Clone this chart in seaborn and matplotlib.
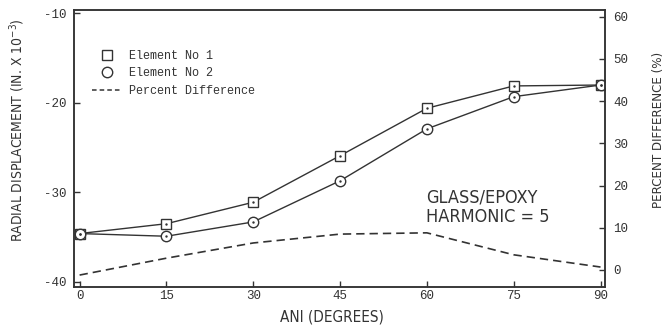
import matplotlib
matplotlib.use("Agg")
import matplotlib.pyplot as plt
from matplotlib.lines import Line2D
import seaborn as sns
import pandas as pd

# ── data ────────────────────────────────────────────────────────────────
angle = [0, 15, 30, 45, 60, 75, 90]
element_1 = [-34.6, -33.5, -31.1, -25.9, -20.6, -18.1, -18.0]
element_2 = [-34.6, -34.9, -33.3, -28.7, -22.9, -19.3, -18.0]
pct_diff = [-1.2, 2.8, 6.4, 8.5, 8.8, 3.6, 0.7]

left_ticks = [-10, -20, -30, -40]
right_ticks = [0, 10, 20, 30, 40, 50, 60]
x_ticks = [0, 15, 30, 45, 60, 75, 90]

df = pd.DataFrame({"angle": angle, "e1": element_1, "e2": element_2, "pct": pct_diff})

sns.set_theme(style="ticks")
plt.rcParams["axes.unicode_minus"] = False
plt.rcParams["font.family"] = ["DejaVu Sans"]
plt.rcParams["font.stretch"] = "condensed"

INK = "#333333"
MONO = "Liberation Mono"
NARROW = "DejaVu Sans"

fig = plt.figure(figsize=(6.65, 3.29), dpi=100)
ax = fig.add_axes([0.111, 0.128, 0.799, 0.842])
ax2 = ax.twinx()

# displacement curves
sns.lineplot(data=df, x="angle", y="e1", ax=ax, color=INK, linewidth=1.0,
             marker="s", markersize=7, markerfacecolor="white",
             markeredgecolor=INK, markeredgewidth=1.0)
sns.lineplot(data=df, x="angle", y="e2", ax=ax, color=INK, linewidth=1.0,
             marker="o", markersize=7.5, markerfacecolor="white",
             markeredgecolor=INK, markeredgewidth=1.0)
# centre dots of the markers
sns.scatterplot(data=df, x="angle", y="e1", ax=ax, color=INK, s=3,
                linewidth=0, zorder=5)
sns.scatterplot(data=df, x="angle", y="e2", ax=ax, color=INK, s=3,
                linewidth=0, zorder=5)

# percent difference (right axis)
sns.lineplot(data=df, x="angle", y="pct", ax=ax2, color=INK, linewidth=1.2,
             linestyle=(0, (5, 3)))

ax.set_xlim(-1.0, 90.8)
ax.set_ylim(-40.56, -9.6)
ax2.set_ylim(-4.0, 61.6)

ax.set_xticks(x_ticks)
ax.set_yticks(left_ticks)
ax2.set_yticks(right_ticks)
ax.set_xticklabels([str(t) for t in x_ticks], fontfamily=MONO, fontsize=9)
ax.set_yticklabels([str(t) for t in left_ticks], fontfamily=MONO, fontsize=9)
ax2.set_yticklabels([str(t) for t in right_ticks], fontfamily=MONO, fontsize=9)

ax.tick_params(axis="both", direction="in", length=4, width=1, color=INK,
               labelcolor=INK)
ax.tick_params(axis="x", pad=2)
ax.tick_params(axis="y", pad=5)
ax2.tick_params(axis="y", direction="in", length=4, width=1, color=INK,
                labelcolor=INK, pad=6)

for a in (ax, ax2):
    for s in a.spines.values():
        s.set_visible(True)
        s.set_color(INK)
        s.set_linewidth(1.1)

ax.set_xlabel("ANI (DEGREES)", fontfamily=NARROW, fontstretch="condensed",
              fontsize=11, color=INK)
ax.set_ylabel("RADIAL DISPLACEMENT (IN. X 10$^{-3}$)", fontfamily=NARROW,
              fontstretch="condensed", fontsize=10, color=INK)
ax2.set_ylabel("PERCENT DIFFERENCE (%)", fontfamily=NARROW,
               fontstretch="condensed", fontsize=9.5, color=INK)
ax.xaxis.set_label_coords(0.486, -0.083)
ax.yaxis.set_label_coords(-0.088, 0.567)
ax2.yaxis.set_label_coords(1.088, 0.567)

ax.text(0.663, 0.355, "GLASS/EPOXY\nHARMONIC = 5", transform=ax.transAxes,
        ha="left", va="top", fontfamily=NARROW, fontstretch="condensed",
        fontsize=13, color=INK, linespacing=1.1)

handles = [
    Line2D([], [], linestyle="none", marker="s", markersize=7,
           markerfacecolor="white", markeredgecolor=INK),
    Line2D([], [], linestyle="none", marker="o", markersize=7.5,
           markerfacecolor="white", markeredgecolor=INK),
    Line2D([], [], color=INK, linewidth=1.1, linestyle=(0, (3, 2))),
]
labels = ["Element No 1", "Element No 2", "Percent Difference"]
leg = ax.legend(handles, labels, loc="upper left", bbox_to_anchor=(0.035, 0.855),
                frameon=False, borderaxespad=0, borderpad=0,
                handlelength=2.5, handletextpad=0.6, labelspacing=0.45,
                prop={"family": MONO, "size": 8.5})
for t in leg.get_texts():
    t.set_color(INK)
if ax2.get_legend():
    ax2.get_legend().remove()

fig.savefig("out.png", dpi=100)
